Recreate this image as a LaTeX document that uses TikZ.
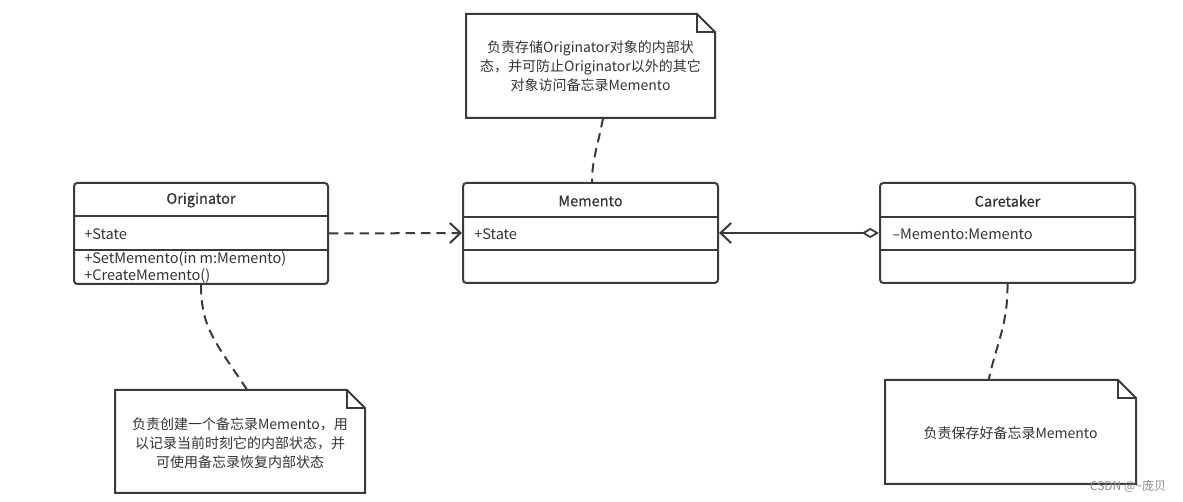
\documentclass[tikz,border=0pt]{standalone}
\usepackage{fontspec}
\setmainfont{Noto Sans CJK SC}
\newfontfamily\medfont[FakeBold=0.5]{Noto Sans CJK SC}
\usetikzlibrary{arrows.meta,calc}
\definecolor{lc}{HTML}{3A3A3A}
\definecolor{tc}{HTML}{333333}
\begin{document}
\begin{tikzpicture}[x=0.75pt,y=-0.75pt,
  cls/.style={draw=lc, line width=1.5pt, rounded corners=2.5pt, fill=white, inner sep=0pt},
  txt/.style={font=\fontsize{10.9}{14.25}\selectfont, text=tc, inner sep=0pt},
  ttl/.style={font=\medfont\fontsize{10.9}{14.25}\selectfont, text=tc, inner sep=0pt},
  notebox/.style={inner sep=0pt, align=center, font=\fontsize{10.5}{14.25}\selectfont, text=tc},
  noteline/.style={draw=lc, line width=1.5pt, fill=white, line join=miter},
  divider/.style={draw=lc, line width=1.2pt},
  dline/.style={draw=lc, line width=1.5pt, dash pattern=on 7pt off 4.5pt},
  conn/.style={draw=lc, line width=1.2pt}
]
\useasboundingbox (0,0) rectangle (1183,502);
\fill[white] (0,0) rectangle (1183,502);

% ---------- note outlines ----------
\path[noteline] (466,14) -- (697,14) -- (715,32) -- (715,118) -- (466,118) -- cycle;
\draw[noteline, fill=none] (697,14) -- (697,32) -- (715,32);
\path[noteline] (115,390) -- (347,390) -- (365,408) -- (365,493) -- (115,493) -- cycle;
\draw[noteline, fill=none] (347,390) -- (347,408) -- (365,408);
\path[noteline] (885,380) -- (1118,380) -- (1136,398) -- (1136,484) -- (885,484) -- cycle;
\draw[noteline, fill=none] (1118,380) -- (1118,398) -- (1136,398);

% ---------- notes (text) ----------
\node[notebox, minimum width=186.75pt, minimum height=78pt] (n0) at (590.5,66)
  {负责存储Originator对象的内部状\\态，并可防止Originator以外的其它\\对象访问备忘录Memento};
\node[notebox, minimum width=187.5pt, minimum height=77.25pt] (n1) at (240,443)
  {负责创建一个备忘录Memento，用\\以记录当前时刻它的内部状态，并\\可使用备忘录恢复内部状态};
\node[notebox, minimum width=188.25pt, minimum height=78pt] (n2) at (1010.5,433)
  {负责保存好备忘录Memento};

% ---------- classes ----------
\node[cls, minimum width=190.5pt, minimum height=75.75pt] (org) at (201,233.5) {};
\draw[divider] (74,216) -- (328,216);
\draw[divider] (74,250) -- (328,250);
\node[ttl] (orgT) at (201,200) {Originator};
\node[txt, anchor=west] (orgA) at (84,234) {+State};
\node[txt, anchor=west] (orgM1) at (84,258.5) {+SetMemento(in m:Memento)};
\node[txt, anchor=west] (orgM2) at (84,276) {+CreateMemento()};

\node[cls, minimum width=191.25pt, minimum height=75pt] (mem) at (590.5,233) {};
\draw[divider] (463,217) -- (718,217);
\draw[divider] (463,250) -- (718,250);
\node[ttl] (memT) at (590.5,201) {Memento};
\node[txt, anchor=west] (memA) at (474,234) {+State};

\node[cls, minimum width=191.25pt, minimum height=75pt] (care) at (1007.5,233) {};
\draw[divider] (880,217) -- (1135,217);
\draw[divider] (880,250) -- (1135,250);
\node[ttl] (careT) at (1007.5,201) {Caretaker};
\node[txt, anchor=west] (careA) at (892,234) {–Memento:Memento};

% ---------- connectors ----------
\draw[dline, -{Straight Barb[length=8pt,width=15pt,line width=1.5pt]}] (org.east) -- (mem.west);
\draw[conn, {Diamond[open,fill=white,length=13pt,width=7.5pt,line width=1.3pt]}-{Straight Barb[length=8pt,width=15pt,line width=1.5pt]}] (care.west) -- (mem.east);

\draw[dline] ($(n0.south)+(12.5,0)$) .. controls (598,145) and (592,160) .. ($(mem.north)+(1.5,0)$);
\draw[dline] (org.south) .. controls (201,330) and (218,345) .. ($(n1.north)+(8,0)$);
\draw[dline] (care.south) .. controls (1008,325) and (996,345) .. ($(n2.north)+(-22,0)$);

% ---------- watermark ----------
\node[font=\fontsize{9}{10}\selectfont, text=black!45, inner sep=0pt] (wm) at (1128,486) {CSDN @\textasciitilde 庞贝};
\end{tikzpicture}
\end{document}
